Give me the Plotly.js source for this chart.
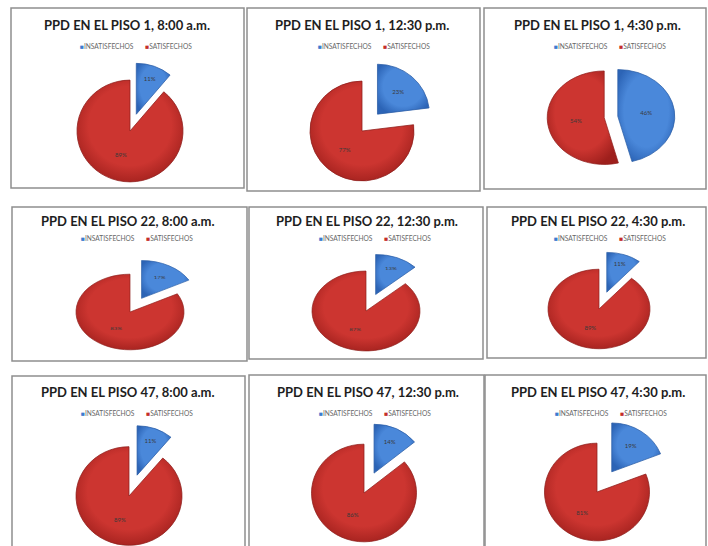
<!DOCTYPE html>
<html>
<head>
<meta charset="utf-8">
<script src="https://cdn.plot.ly/plotly-3.0.1.min.js"></script>
<style>
  html, body { margin: 0; padding: 0; background: #fff; width: 708px; height: 546px; overflow: hidden; }
</style>
</head>
<body>
<div id="chart"></div>
<script>
// PPD (porcentaje de personas insatisfechas) por piso y hora
const categories = ['INSATISFECHOS', 'SATISFECHOS'];
const titles = [
  'PPD EN EL PISO 1, 8:00 a.m.',  'PPD EN EL PISO 1, 12:30 p.m.',  'PPD EN EL PISO 1, 4:30 p.m.',
  'PPD EN EL PISO 22, 8:00 a.m.', 'PPD EN EL PISO 22, 12:30 p.m.', 'PPD EN EL PISO 22, 4:30 p.m.',
  'PPD EN EL PISO 47, 8:00 a.m.', 'PPD EN EL PISO 47, 12:30 p.m.', 'PPD EN EL PISO 47, 4:30 p.m.'
];
const insatisfechos = [11, 23, 46, 17, 13, 11, 11, 14, 19];
const satisfechos   = [89, 77, 54, 83, 87, 89, 89, 86, 81];

const colors = ['#3c7bd0', '#c42e2a'];
const edgeColors = ['#2b5ea6', '#8f1f1c'];
// bevel shading per slice colour: [centre, edge]
const shades = [['#4a88da', '#2c64b6'], ['#cc3530', '#9e1f1c']];

// figure is taller than the window; the bottom row is clipped by the page
const W = 708, H = 620;

// frame boxes [x0, y0, x1, y1] in px from the top-left
const boxes = [
  [11, 8, 244, 188],  [247, 8, 480, 191],  [484, 8, 706, 189],
  [12, 207, 247, 361], [249, 207, 483, 359], [487, 207, 706, 358],
  [12, 376, 245, 600], [249, 375, 484, 600], [485, 375, 706, 600]
];
// pie centre, radius, vertical squash and slice explosion
const pies = [
  {cx: 130, cy: 131, r: 53, squash: 0.96, pull: [0.35, 0]},
  {cx: 362, cy: 131, r: 52, squash: 0.96, pull: [0.45, 0]},
  {cx: 611, cy: 117, r: 57, squash: 0.82, pull: [0.12, 0.12]},
  {cx: 130, cy: 312, r: 54, squash: 0.70, pull: [0.42, 0]},
  {cx: 366, cy: 311, r: 54, squash: 0.74, pull: [0.45, 0]},
  {cx: 599, cy: 309, r: 51, squash: 0.78, pull: [0.45, 0]},
  {cx: 129, cy: 496, r: 53, squash: 0.93, pull: [0.45, 0]},
  {cx: 364, cy: 493, r: 52.5, squash: 0.93, pull: [0.45, 0]},
  {cx: 597, cy: 492, r: 52.5, squash: 0.93, pull: [0.50, 0]}
];
const titlePos  = [[127, 25], [362, 25], [597, 25], [128, 221], [367, 221], [598, 221], [128, 392], [368, 392], [598, 392]];
const legendPos = [[136, 46], [374, 46], [610, 46], [137, 238], [375, 238], [610, 238], [137, 413], [375, 413], [611, 413]];

const px = x => x / W;
const py = y => 1 - y / H;

const data = pies.map((p, i) => {
  const half = p.r * (1 + Math.max(...p.pull));
  return {
    type: 'pie',
    labels: categories,
    values: [insatisfechos[i], satisfechos[i]],
    sort: false,
    direction: 'clockwise',
    rotation: 0,
    pull: p.pull,
    domain: {
      x: [px(p.cx - half), px(p.cx + half)],
      y: [py(p.cy + half), py(p.cy - half)]
    },
    marker: {colors: colors, line: {color: edgeColors, width: 0.8}},
    texttemplate: '%{value}%',
    textposition: 'inside',
    insidetextorientation: 'horizontal',
    insidetextfont: {family: 'Lato, sans-serif', size: 6, color: '#3a3a3a'},
    hoverinfo: 'skip',
    showlegend: false
  };
});

const shapes = boxes.map(b => ({
  type: 'rect', xref: 'paper', yref: 'paper',
  x0: px(b[0]), x1: px(b[2]), y0: py(b[3]), y1: py(b[1]),
  line: {color: '#8e8e8e', width: 1.5}, fillcolor: 'rgba(0,0,0,0)', layer: 'below'
}));

const nb = '\u00a0';
const legendText =
  `<span style="color:${colors[0]}">■</span>${categories[0]}${nb.repeat(7)}` +
  `<span style="color:${colors[1]}">■</span>${categories[1]}`;

const annotations = [];
titles.forEach((t, i) => {
  annotations.push({
    xref: 'paper', yref: 'paper', x: px(titlePos[i][0]), y: py(titlePos[i][1]),
    xanchor: 'center', yanchor: 'middle', showarrow: false,
    text: '<b>' + t + '</b>',
    font: {family: 'Lato, sans-serif', size: 13, color: '#1e1e1e'}
  });
  annotations.push({
    xref: 'paper', yref: 'paper', x: px(legendPos[i][0]), y: py(legendPos[i][1]),
    xanchor: 'center', yanchor: 'middle', showarrow: false,
    text: legendText,
    font: {family: 'Lato, sans-serif', size: 6.6, color: '#666666'}
  });
});

const layout = {
  width: W, height: H,
  margin: {l: 0, r: 0, t: 0, b: 0},
  paper_bgcolor: '#ffffff',
  shapes: shapes,
  annotations: annotations
};

Plotly.newPlot('chart', data, layout, {staticPlot: true}).then(gd => {
  // radial bevel gradients for the slices
  const svg = gd.querySelector('.main-svg');
  const NS = 'http://www.w3.org/2000/svg';
  const defs = document.createElementNS(NS, 'defs');
  shades.forEach((s, k) => {
    const grad = document.createElementNS(NS, 'radialGradient');
    grad.setAttribute('id', 'bevel' + k);
    grad.setAttribute('cx', '0.5'); grad.setAttribute('cy', '0.45'); grad.setAttribute('r', '0.6');
    [['0', s[0]], ['0.65', s[0]], ['1', s[1]]].forEach(([o, c]) => {
      const st = document.createElementNS(NS, 'stop');
      st.setAttribute('offset', o); st.setAttribute('stop-color', c);
      grad.appendChild(st);
    });
    defs.appendChild(grad);
  });
  svg.insertBefore(defs, svg.firstChild);

  gd.querySelectorAll('.pielayer .trace').forEach((g, i) => {
    const p = pies[i];
    // tilt each pie into an ellipse around its own centre
    g.setAttribute('transform', `translate(0 ${p.cy}) scale(1 ${p.squash}) translate(0 ${-p.cy})`);
    g.querySelectorAll('.slice').forEach((s, k) => {
      const path = s.querySelector('path.surface');
      if (path) path.style.fill = `url(#bevel${k})`;
    });
  });
});
</script>
</body>
</html>
